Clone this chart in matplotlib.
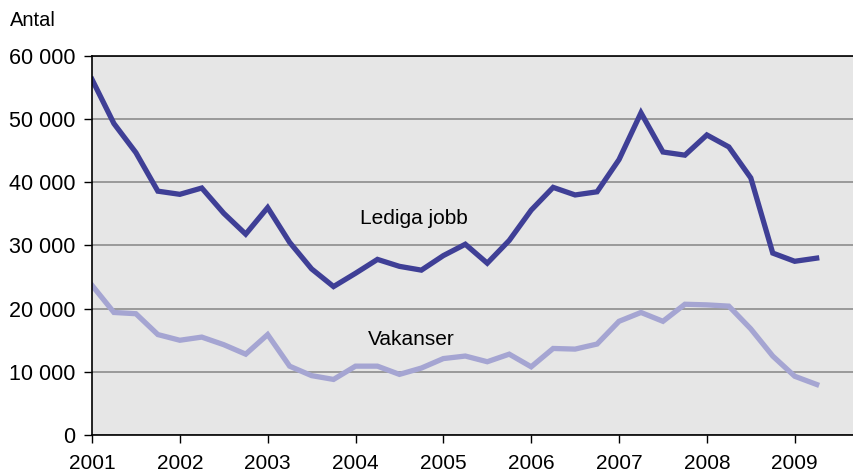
import numpy as np
import matplotlib
matplotlib.use("Agg")
import matplotlib.pyplot as plt
from matplotlib.ticker import FuncFormatter

plt.rcParams["font.family"] = ["Liberation Sans", "DejaVu Sans"]

# Quarterly data, 2001 Q1 - 2009 Q2
start_year = 2001
lediga_jobb = [56300, 49300, 44700, 38600, 38100, 39100, 35100, 31800,
               36000, 30500, 26300, 23500, 25600, 27800, 26700, 26100,
               28400, 30200, 27200, 30800, 35600, 39200, 38000, 38500,
               43600, 51000, 44800, 44300, 47500, 45600, 40700, 28800,
               27500, 28000]
vakanser = [23700, 19400, 19200, 15900, 15000, 15500, 14300, 12800,
            15900, 10900, 9400, 8800, 10900, 10900, 9600, 10600,
            12100, 12500, 11600, 12800, 10800, 13700, 13600, 14400,
            18000, 19400, 18000, 20700, 20600, 20400, 16800, 12500,
            9300, 8000]
years = list(range(2001, 2010))
y_ticks = [0, 10000, 20000, 30000, 40000, 50000, 60000]

quarters = start_year + np.arange(len(lediga_jobb)) / 4

fig = plt.figure(figsize=(8.54, 4.76), dpi=100)
ax = fig.add_axes([0.1077, 0.0861, 0.8923, 0.7963])
ax.set_facecolor("#E6E6E6")

ax.plot(quarters, lediga_jobb, color="#3F3F96", lw=3.8, solid_joinstyle="miter")
ax.plot(quarters, vakanser, color="#A5A5D2", lw=3.8, solid_joinstyle="miter")

ax.set_xlim(2001, 2009.675)
ax.set_ylim(0, 60000)
ax.set_xticks(years)
ax.set_yticks(y_ticks)
ax.yaxis.set_major_formatter(FuncFormatter(lambda v, p: f"{int(v):,}".replace(",", " ")))

ax.grid(axis="y", color="#8C8C8C", lw=1.2)
ax.set_axisbelow(True)
for s in ["left", "bottom", "top"]:
    ax.spines[s].set_color("black")
    ax.spines[s].set_linewidth(1.2)
ax.spines["right"].set_visible(False)

ax.tick_params(axis="both", direction="out", length=6, width=1, colors="black")
ax.tick_params(axis="y", pad=6, labelsize=15.5)
ax.tick_params(axis="x", pad=8, labelsize=15)

ax.text(2004.66, 34200, "Lediga jobb", fontsize=15, ha="center", va="center")
ax.text(2004.64, 15100, "Vakanser", fontsize=15, ha="center", va="center")

fig.text(10 / 854, 1 - 20 / 476, "Antal", fontsize=14.5, ha="left", va="center")

fig.savefig("out.png", dpi=100)
